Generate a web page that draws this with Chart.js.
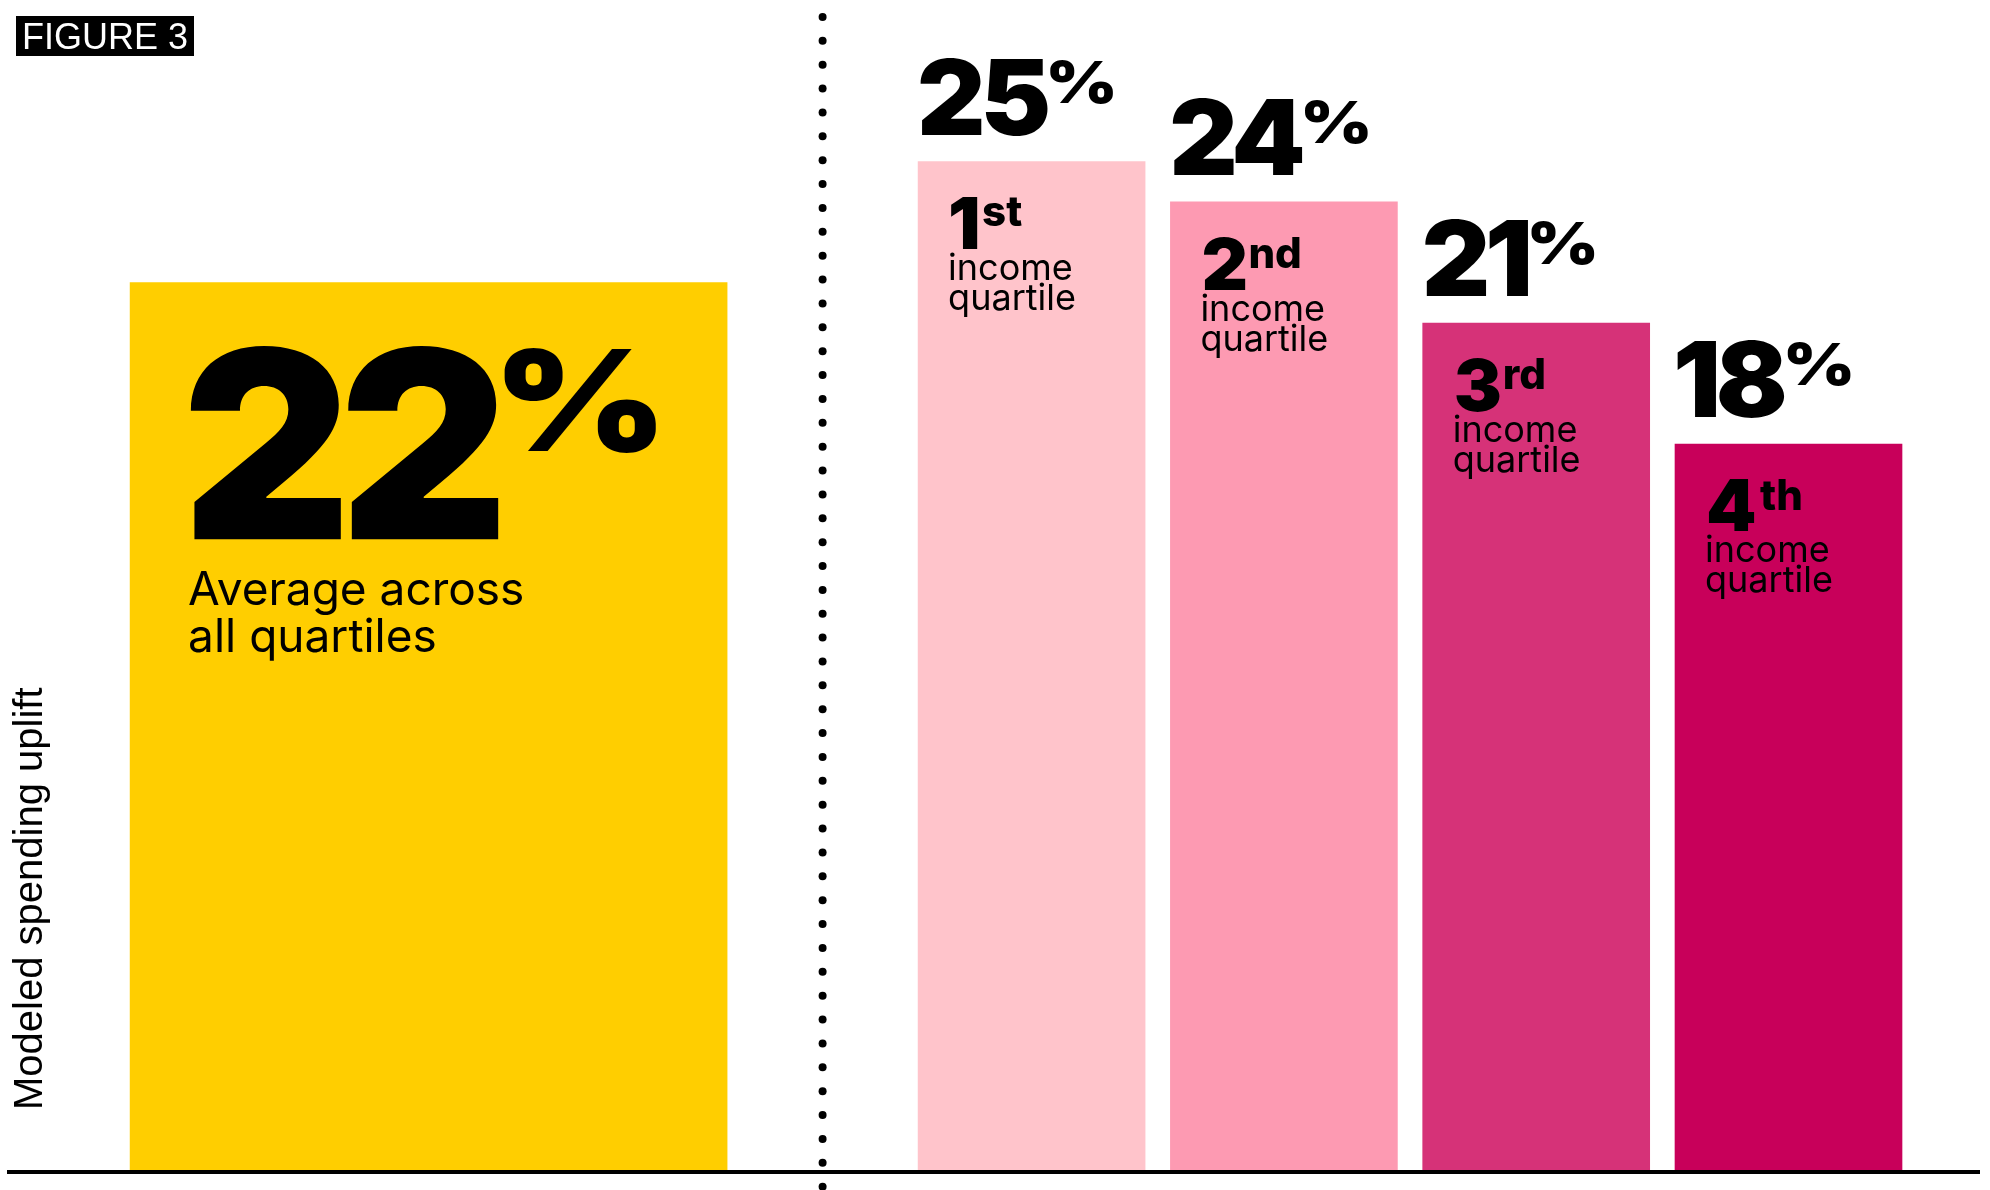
<!DOCTYPE html>
<html>
<head>
<meta charset="utf-8">
<script src="https://cdn.jsdelivr.net/npm/chart.js@4.4.1/dist/chart.umd.min.js"></script>
<style>
  html, body { margin: 0; padding: 0; background: #fff; }
</style>
</head>
<body>
<canvas id="upliftChart" width="1990" height="1190"></canvas>
<script>
// chart data
const figureTag = 'FIGURE 3';
const yTitle = 'Modeled spending uplift';
const avgLabel = ['Average across', 'all quartiles'];
const avgValue = 22;
const quartileRanks = ['1', '2', '3', '4'];
const quartileSuffixes = ['st', 'nd', 'rd', 'th'];
const quartileCaption = ['income', 'quartile'];
const quartileValues = [25, 24, 21, 18];

// styles / layout
const avgColor = '#ffce00';
const quartileColors = ['#ffc4cb', '#fd9ab2', '#d63278', '#c8005a'];
const avgSlot = -1.39;   // x position of the average bar, in quartile units
const bigFont = 'Inter';
const textFont = 'Inter';

// big number with a raised percent sign; returns the digits baseline
function drawValue(c, value, left, top, digitPx, pctPx, spacing, squeeze) {
  c.save();
  c.textAlign = 'left';
  c.textBaseline = 'alphabetic';
  c.fillStyle = '#000';
  c.font = `900 ${digitPx}px ${bigFont}`;
  c.letterSpacing = spacing + 'px';
  const digits = String(value);
  const m = c.measureText(digits);
  const base = top + m.actualBoundingBoxAscent;
  c.translate(left, 0);
  c.scale(squeeze, 1);
  c.fillText(digits, m.actualBoundingBoxLeft, base);
  c.restore();
  const right = left + (m.actualBoundingBoxLeft + m.actualBoundingBoxRight) * squeeze;
  c.save();
  c.fillStyle = '#000';
  c.textBaseline = 'alphabetic';
  c.textAlign = 'left';
  c.font = `900 ${pctPx}px ${bigFont}`;
  const p = c.measureText('%');
  c.translate(right + pctPx * 0.04, 0);
  c.scale(1.2, 1);
  c.fillText('%', p.actualBoundingBoxLeft, top + pctPx * 0.04 + p.actualBoundingBoxAscent);
  c.restore();
  return base;
}

const labelPlugin = {
  id: 'labels',
  beforeDatasetsDraw(chart) {
    // dotted divider between the average and the quartiles
    const c = chart.ctx;
    const avgBar = chart.getDatasetMeta(0).data[0];
    const first = chart.getDatasetMeta(1).data[0];
    const xDiv = ((avgBar.x + avgBar.width / 2) + (first.x - first.width / 2)) / 2;
    c.save();
    c.fillStyle = '#000';
    for (let y = 17; y < chart.height; y += 23.87) {
      c.beginPath();
      c.arc(xDiv, y, 4, 0, Math.PI * 2);
      c.fill();
    }
    c.restore();
  },
  afterDatasetsDraw(chart) {
    const c = chart.ctx;
    const area = chart.chartArea;
    const y0 = chart.scales.y.getPixelForValue(0);
    c.save();

    // baseline
    c.strokeStyle = '#000';
    c.lineWidth = 4;
    c.beginPath();
    c.moveTo(area.left, y0 + 1);
    c.lineTo(area.right, y0 + 1);
    c.stroke();

    // average bar text
    const avgBar = chart.getDatasetMeta(0).data[0];
    const aLeft = avgBar.x - avgBar.width / 2;
    const aBase = drawValue(c, avgValue, aLeft + 60, avgBar.y + 60, 262, 140, -12, 1.0);
    c.fillStyle = '#000';
    c.textAlign = 'left';
    c.textBaseline = 'alphabetic';
    c.font = `400 46px ${textFont}`;
    c.letterSpacing = '0px';
    avgLabel.forEach((t, i) => c.fillText(t, aLeft + 58, aBase + 66 + i * 47));

    // quartile bars
    chart.getDatasetMeta(1).data.forEach((bar, i) => {
      const left = bar.x - bar.width / 2;
      // value above the bar
      const h = 75;
      drawValue(c, quartileValues[i], left + 2, bar.y - 29 - h, 104, 58, -5, 1.02);
      // ordinal inside
      c.fillStyle = '#000';
      c.font = `900 72px ${bigFont}`;
      c.letterSpacing = '0px';
      const m = c.measureText(quartileRanks[i]);
      const top = bar.y + 35;
      const x = left + 33 + m.actualBoundingBoxLeft;
      const base = top + m.actualBoundingBoxAscent;
      c.fillText(quartileRanks[i], x, base);
      c.font = `800 42px ${bigFont}`;
      const s = c.measureText(quartileSuffixes[i]);
      c.fillText(quartileSuffixes[i], x + m.actualBoundingBoxRight + 5 + s.actualBoundingBoxLeft, top + s.actualBoundingBoxAscent);
      c.font = `400 36px ${textFont}`;
      quartileCaption.forEach((t, k) => c.fillText(t, left + 30, base + 31 + k * 30));
    });

    // axis title
    c.save();
    c.translate(42, y0 - 61);
    c.rotate(-Math.PI / 2);
    c.font = '40px "Liberation Sans"';
    c.fillStyle = '#000';
    c.fillText(yTitle, 0, 0);
    c.restore();

    // figure tag
    c.fillStyle = '#000';
    c.fillRect(16, 16, 178, 40);
    c.fillStyle = '#fff';
    c.font = '36px "Liberation Sans"';
    c.fillText(figureTag, 22, 49);
    c.restore();
  }
};

const ctx = document.getElementById('upliftChart').getContext('2d');
const chart = new Chart(ctx, {
  type: 'bar',
  data: {
    datasets: [{
      label: 'Average across all quartiles',
      data: [{ x: avgSlot, y: avgValue }],
      backgroundColor: avgColor,
      barThickness: 597,
      grouped: false
    }, {
      label: 'Income quartile',
      data: quartileValues.map((v, i) => ({ x: i + 1, y: v })),
      backgroundColor: quartileColors,
      barThickness: 227,
      grouped: false
    }]
  },
  options: {
    responsive: false,
    animation: false,
    layout: { padding: { left: 7, right: 10, top: 0, bottom: 19 } },
    plugins: {
      legend: { display: false },
      tooltip: { enabled: false }
    },
    scales: {
      x: { type: 'linear', min: -3.061, max: 4.759, offset: false, display: false },
      y: { min: 0, max: 29, display: false }
    }
  },
  plugins: [labelPlugin]
});
</script>
</body>
</html>
